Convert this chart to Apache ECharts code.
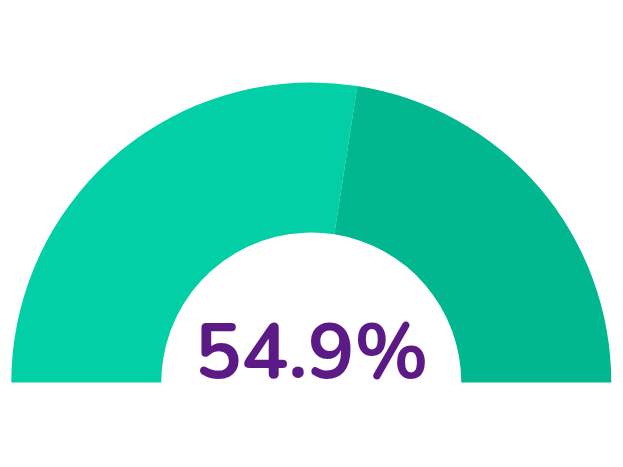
<!DOCTYPE html>
<html>
<head>
<meta charset="utf-8">
<script src="https://cdn.jsdelivr.net/npm/echarts@6/dist/echarts.min.js"></script>
<style>
html, body { margin: 0; padding: 0; background: #fff; }
#chart { width: 623px; height: 467px; }
</style>
</head>
<body>
<div id="chart"></div>
<script>
// share filled vs. remaining, plus a hidden lower half
const labels = ['Filled', 'Remaining', 'Hidden'];
const values = [54.9, 45.1, 100];
const colors = ['#02cfa5', '#00b78f', 'transparent'];
const centerText = '54.9%';

const chart = echarts.init(document.getElementById('chart'));

chart.setOption({
    animation: false,
    series: [
        {
            type: 'pie',
            center: [311.3, 382.5],
            radius: [150, 300],
            startAngle: 180,
            clockwise: true,
            silent: true,
            label: { show: false },
            labelLine: { show: false },
            itemStyle: { borderWidth: 0 },
            emphasis: { disabled: true },
            data: values.map((v, i) => ({
                name: labels[i],
                value: v,
                itemStyle: { color: colors[i] }
            }))
        }
    ],
    graphic: [
        {
            type: 'text',
            left: 'center',
            top: 320,
            style: {
                text: centerText,
                fill: '#5b1a86',
                font: 'bold 78px Nunito, Lato, "Open Sans", sans-serif'
            }
        }
    ]
});
</script>
</body>
</html>
